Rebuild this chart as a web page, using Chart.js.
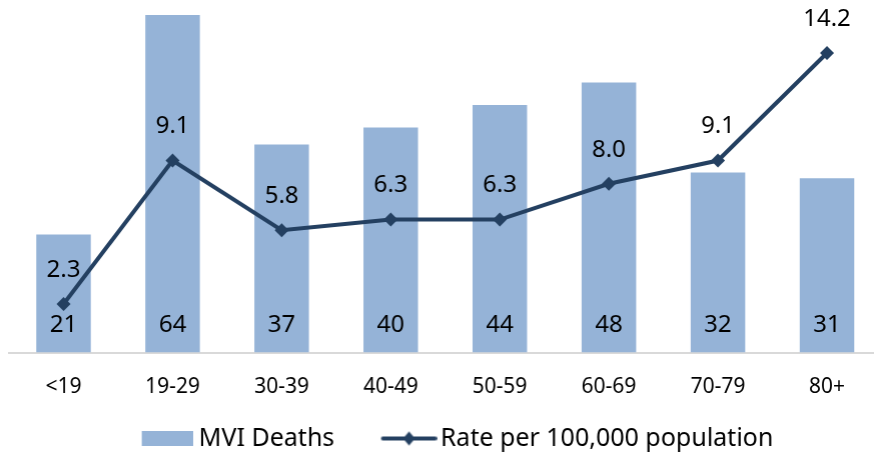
<!DOCTYPE html>
<html>
<head>
<meta charset="utf-8">
<script src="https://cdn.jsdelivr.net/npm/chart.js@4/dist/chart.umd.min.js"></script>
<style>
  html, body { margin: 0; padding: 0; overflow: hidden; background: #fff; }
  #wrap { width: 887.5px; height: 461px; }
</style>
</head>
<body>
<div id="wrap"><canvas id="mviChart"></canvas></div>
<script>
const ageGroups = ['<19', '19-29', '30-39', '40-49', '50-59', '60-69', '70-79', '80+'];
const mviDeaths = [21, 64, 37, 40, 44, 48, 32, 31];
const ratePer100k = [2.3, 9.1, 5.8, 6.3, 6.3, 8.0, 9.1, 14.2];
const deathsAxisMax = 60;
const rateAxisMax = 16;

const barColor = '#95B3D7';
const lineColor = '#244061';

Chart.defaults.font.family = '"Noto Sans", sans-serif';
Chart.defaults.color = '#000';

// Legend symbols drawn as small images (symbol sits at the right of the image)
function makeBoxIcon() {
    const c = document.createElement('canvas');
    c.width = 75;
    c.height = 15;
    const ctx = c.getContext('2d');
    ctx.fillStyle = barColor;
    ctx.fillRect(24, 0, 51, 15);
    return c;
}

function makeLineIcon() {
    const c = document.createElement('canvas');
    c.width = 80;
    c.height = 16;
    const ctx = c.getContext('2d');
    ctx.strokeStyle = lineColor;
    ctx.lineWidth = 4;
    ctx.lineCap = 'round';
    ctx.beginPath();
    ctx.moveTo(26, 8);
    ctx.lineTo(78, 8);
    ctx.stroke();
    ctx.fillStyle = lineColor;
    ctx.beginPath();
    ctx.moveTo(46, 8);
    ctx.lineTo(52, 1);
    ctx.lineTo(58, 8);
    ctx.lineTo(52, 15);
    ctx.closePath();
    ctx.fill();
    return c;
}

const boxIcon = makeBoxIcon();
const lineIcon = makeLineIcon();

// Value labels on bars (inside, near base) and above line points
const valueLabels = {
    id: 'valueLabels',
    afterDatasetsDraw(chart) {
        const ctx = chart.ctx;
        ctx.save();
        ctx.fillStyle = '#000';
        ctx.font = '24px "Noto Sans"';
        ctx.textAlign = 'center';
        ctx.textBaseline = 'middle';
        chart.data.datasets.forEach((ds, i) => {
            const meta = chart.getDatasetMeta(i);
            meta.data.forEach((el, j) => {
                if (ds.type === 'line') {
                    ctx.fillText(ds.data[j].toFixed(1), el.x, el.y - 34);
                } else {
                    ctx.fillText(String(ds.data[j]), el.x, el.base - 27);
                }
            });
        });
        ctx.restore();
    }
};

new Chart(document.getElementById('mviChart'), {
    type: 'bar',
    data: {
        labels: ageGroups,
        datasets: [
            {
                type: 'bar',
                label: 'MVI Deaths',
                data: mviDeaths,
                backgroundColor: barColor,
                barPercentage: 0.5,
                categoryPercentage: 1.0,
                yAxisID: 'y',
                order: 2
            },
            {
                type: 'line',
                label: 'Rate per 100,000 population',
                data: ratePer100k,
                borderColor: lineColor,
                backgroundColor: lineColor,
                borderWidth: 4,
                pointStyle: 'rectRot',
                pointRadius: 7,
                pointBorderWidth: 0,
                tension: 0,
                yAxisID: 'y1',
                order: 1
            }
        ]
    },
    plugins: [valueLabels],
    options: {
        responsive: true,
        maintainAspectRatio: false,
        animation: false,
        layout: {
            padding: { top: 15, left: 9, right: 0, bottom: 0 }
        },
        plugins: {
            tooltip: { enabled: false },
            legend: {
                position: 'bottom',
                labels: {
                    usePointStyle: true,
                    pointStyleWidth: 62,
                    padding: 31.5,
                    font: { size: 25 },
                    color: '#000',
                    generateLabels: (chart) => chart.data.datasets.map((ds, i) => ({
                        text: ds.label,
                        pointStyle: ds.type === 'line' ? lineIcon : boxIcon,
                        fillStyle: ds.backgroundColor,
                        strokeStyle: ds.backgroundColor,
                        lineWidth: 0,
                        hidden: false,
                        datasetIndex: i
                    }))
                }
            }
        },
        scales: {
            x: {
                grid: { display: false },
                border: { display: true, color: '#D9D9D9', width: 2 },
                ticks: { font: { size: 21 }, padding: 13.5, maxRotation: 0 },
                afterFit: (scale) => { scale.height = 42; }
            },
            y: {
                display: false,
                min: 0,
                max: deathsAxisMax
            },
            y1: {
                display: true,
                position: 'right',
                min: 0,
                max: rateAxisMax,
                grid: { display: false },
                border: { display: false },
                ticks: { display: false },
                afterFit: (scale) => { scale.width = 1.5; }
            }
        }
    }
});
</script>
</body>
</html>
